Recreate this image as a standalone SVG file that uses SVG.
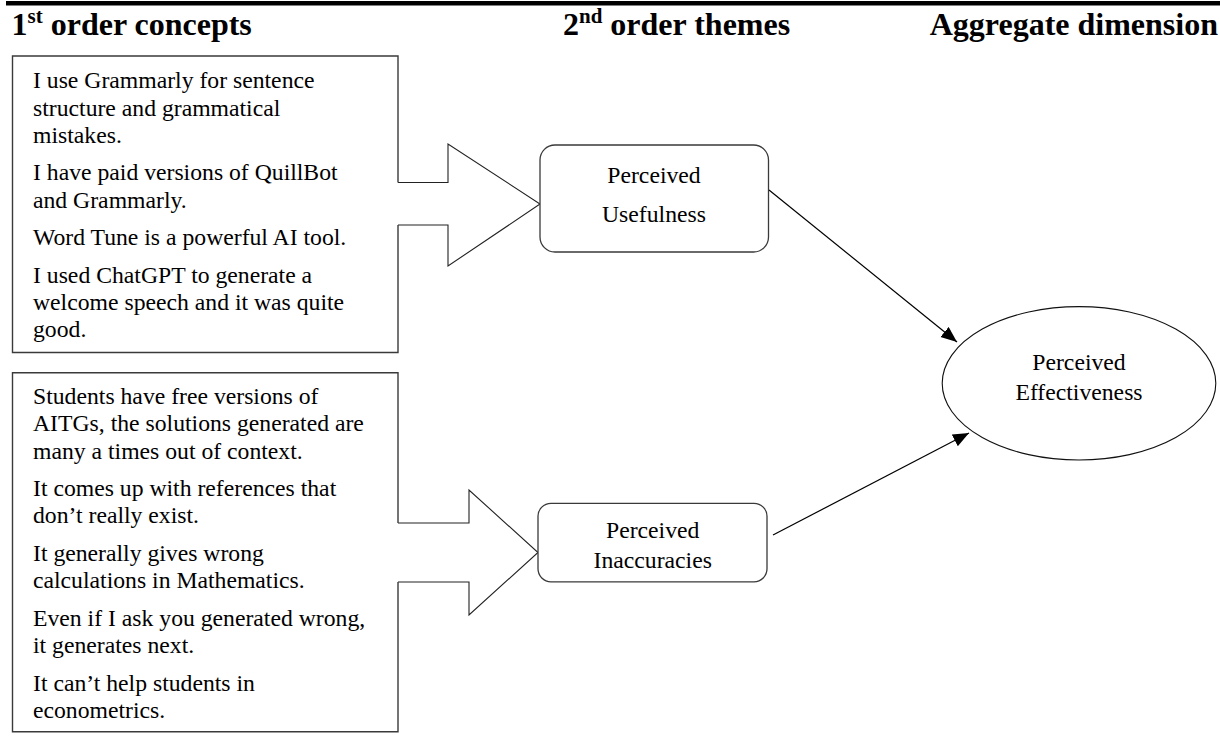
<svg xmlns="http://www.w3.org/2000/svg" width="1220" height="740" viewBox="0 0 1220 740">
<style>
.hd{font-family:"Liberation Serif","Times New Roman",serif;font-weight:bold;font-size:32px;fill:#000}
.tx{font-family:"Liberation Serif","Times New Roman",serif;font-size:23.7px;fill:#000}
.nd{font-family:"Liberation Serif","Times New Roman",serif;font-size:23.7px;fill:#000;text-anchor:middle}
.box{fill:none;stroke:#3a3a3a;stroke-width:1.4}
.blk{fill:#fff;stroke:#222;stroke-width:1.1}
.rnd{fill:#fff;stroke:#3a3a3a;stroke-width:1.3}
.con{fill:none;stroke:#000;stroke-width:1.2}
</style>
<defs>
<marker id="ah" markerUnits="userSpaceOnUse" markerWidth="17" markerHeight="14" refX="16" refY="6.5" orient="auto">
<path d="M0,0 L16,6.5 L0,13 z" fill="#000"/>
</marker>
</defs>
<rect x="6" y="1" width="1214" height="4.5" fill="#000"/>
<g id="headings">
<text class="hd" x="11.5" y="35">1<tspan font-size="21" dy="-12">st</tspan><tspan dy="12"> order concepts</tspan></text>
<text class="hd" x="563" y="34.5">2<tspan font-size="21" dy="-12">nd</tspan><tspan dy="12"> order themes</tspan></text>
<text class="hd" x="1218" y="34.5" text-anchor="end">Aggregate dimension</text>
</g>
<g id="connectors">
<path class="blk" d="M398,182.5 H448 V144 L540,204 L448,266 V225 H398"/>
<path class="blk" d="M398,523 H469 V490 L538,552.5 L469,615 V582 H398"/>
<line class="con" x1="769" y1="190" x2="957" y2="342" marker-end="url(#ah)"/>
<line class="con" x1="773" y1="535" x2="969" y2="433" marker-end="url(#ah)"/>
</g>
<g id="concepts1">
<path class="box" d="M398,225 V352.5 H12.5 V56 H398 V182.5"/>
<text class="tx" x="33" y="88.3">I use Grammarly for sentence</text>
<text class="tx" x="33" y="115.6">structure and grammatical</text>
<text class="tx" x="33" y="142.9">mistakes.</text>
<text class="tx" x="33" y="180.4">I have paid versions of QuillBot</text>
<text class="tx" x="33" y="207.7">and Grammarly.</text>
<text class="tx" x="33" y="245.2">Word Tune is a powerful AI tool.</text>
<text class="tx" x="33" y="282.7">I used ChatGPT to generate a</text>
<text class="tx" x="33" y="310">welcome speech and it was quite</text>
<text class="tx" x="33" y="337.3">good.</text>
</g>
<g id="concepts2">
<path class="box" d="M398,582 V731.7 H12.5 V372.7 H398 V523"/>
<text class="tx" x="33" y="404">Students have free versions of</text>
<text class="tx" x="33" y="431.3">AITGs, the solutions generated are</text>
<text class="tx" x="33" y="458.6">many a times out of context.</text>
<text class="tx" x="33" y="496.1">It comes up with references that</text>
<text class="tx" x="33" y="523.4">don’t really exist.</text>
<text class="tx" x="33" y="560.9">It generally gives wrong</text>
<text class="tx" x="33" y="588.2">calculations in Mathematics.</text>
<text class="tx" x="33" y="625.7">Even if I ask you generated wrong,</text>
<text class="tx" x="33" y="653">it generates next.</text>
<text class="tx" x="33" y="690.5">It can’t help students in</text>
<text class="tx" x="33" y="717.8">econometrics.</text>
</g>
<g id="usefulness">
<rect class="rnd" x="540" y="145" width="228.5" height="107" rx="15"/>
<text class="nd" x="654" y="182.7">Perceived</text>
<text class="nd" x="654" y="221.7">Usefulness</text>
</g>
<g id="inaccuracies">
<rect class="rnd" x="538" y="503.3" width="229" height="78.5" rx="13"/>
<text class="nd" x="652.7" y="538.3">Perceived</text>
<text class="nd" x="652.7" y="568.3">Inaccuracies</text>
</g>
<g id="effectiveness">
<ellipse cx="1079" cy="383.3" rx="136.8" ry="76.7" fill="#fff" stroke="#111" stroke-width="1.1"/>
<text class="nd" x="1079" y="370">Perceived</text>
<text class="nd" x="1079" y="400">Effectiveness</text>
</g>
</svg>
